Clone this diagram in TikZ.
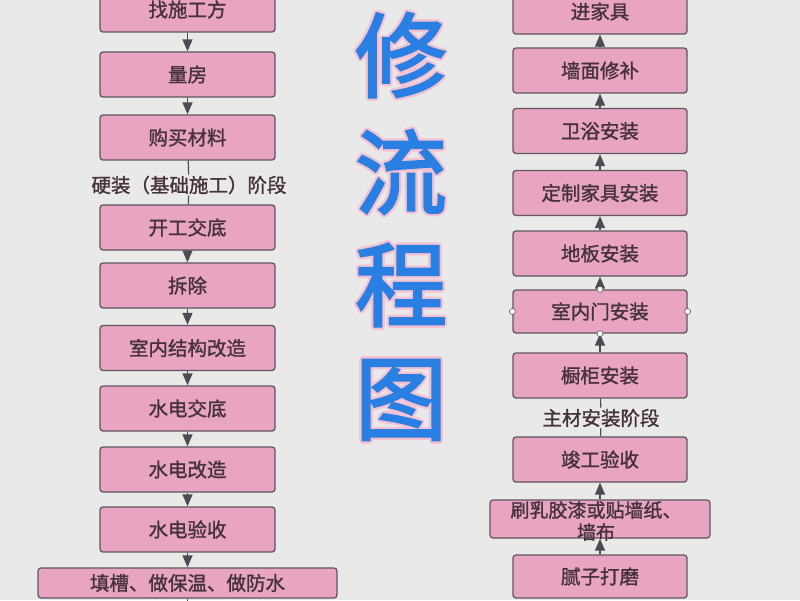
\documentclass[tikz,border=0pt]{standalone}
\usepackage{fontspec}
\setmainfont{Noto Sans CJK SC}
\newfontfamily\boxfont[FakeBold=1.3]{Noto Sans CJK SC}
\newfontfamily\glowfont{Noto Sans CJK SC}
\newfontfamily\titlefont[FakeBold=2.5]{Noto Sans CJK SC}
\usetikzlibrary{arrows.meta}
\definecolor{bg}{HTML}{E9E9EA}
\definecolor{boxfill}{HTML}{E8A4C0}
\definecolor{boxline}{HTML}{5E5660}
\definecolor{txt}{HTML}{45323C}
\definecolor{arr}{HTML}{4F4B52}
\definecolor{ttl}{HTML}{2A7FE2}
\definecolor{glow}{HTML}{F2C2D3}
\newcommand{\glowon}{\special{pdf:literal direct 1 Tr 7 w 1 j 0.949 0.761 0.827 RG}}
\newcommand{\glowoff}{\special{pdf:literal direct 0 Tr}}
\tikzset{
  stepbox/.style={rectangle, rounded corners=3pt, draw=boxline, line width=1.3pt, fill=boxfill, text=txt, inner sep=0pt, minimum height=45pt, font=\boxfont\fontsize{19.5}{21}\selectfont},
  lbox/.style={stepbox, minimum width=175pt},
  rbox/.style={stepbox, minimum width=174pt},
  flow/.style={draw=arr, line width=1.3pt, -{Triangle[width=10pt,length=12pt]}},
  plain/.style={draw=arr, line width=1.2pt},
  stage/.style={text=txt, inner sep=1pt, font=\boxfont\fontsize{19.5}{21}\selectfont},
  wraptext/.style={text=txt, inner sep=0pt, align=center, font=\boxfont\fontsize{19}{22}\selectfont},
  handle/.style={circle, draw=boxline, fill=white, line width=0.6pt, minimum size=6pt, inner sep=0pt},
  glowtxt/.style={text=glow, inner sep=0pt, font=\glowfont\fontsize{92}{92}\selectfont},
  titletxt/.style={text=ttl, inner sep=0pt, font=\titlefont\fontsize{92}{92}\selectfont},
}
\begin{document}
\begin{tikzpicture}[x=1pt,y=-1pt]
\fill[bg] (0,0) rectangle (800,600);
\useasboundingbox (0,0) rectangle (800,600);

% title: pink halo, then blue letters
\foreach \ch/\yy/\nm in {修/55/g1, 流/172/g2, 程/285/g3, 图/400/g4}{
  \node[glowtxt] (\nm) at (401,\yy) {\glowon\ch\glowoff};
}
\foreach \ch/\yy/\nm in {修/55/t1, 流/172/t2, 程/285/t3, 图/400/t4}{
  \node[titletxt] (\nm) at (401,\yy) {\ch};
}

% left column
\node[lbox] (l1) at (187.5,9.5) {找施工方};
\node[lbox] (l2) at (187.5,74.5) {量房};
\node[lbox] (l3) at (187.5,137.5) {购买材料};
\node[stage] (s1) at (189,185) {硬装（基础施工）阶段};
\node[lbox] (l4) at (187.5,227.5) {开工交底};
\node[lbox] (l5) at (187.5,285.5) {拆除};
\node[lbox] (l6) at (187.5,348) {室内结构改造};
\node[lbox] (l7) at (187.5,408.5) {水电交底};
\node[lbox] (l8) at (187.5,469.5) {水电改造};
\node[lbox] (l9) at (187.5,529.5) {水电验收};
\node[stepbox, minimum width=299pt, minimum height=30pt] (l10) at (187.5,583) {填槽、做保温、做防水};
\coordinate (lend) at (187.5,612);

\draw[flow] (l1) -- (l2);
\draw[flow] (l2) -- (l3);
\draw[plain] (l3) -- (s1);
\draw[plain] (s1) -- (l4);
\draw[flow] (l4) -- (l5);
\draw[flow] (l5) -- (l6);
\draw[flow] (l6) -- (l7);
\draw[flow] (l7) -- (l8);
\draw[flow] (l8) -- (l9);
\draw[flow] (l9) -- (l10);
\draw[plain] (l10) -- (lend);

% right column
\node[rbox] (r1) at (600,11.5) {进家具};
\node[rbox] (r2) at (600,70.5) {墙面修补};
\node[rbox] (r3) at (600,131) {卫浴安装};
\node[rbox] (r4) at (600,193) {定制家具安装};
\node[rbox] (r5) at (600,253.5) {地板安装};
\node[rbox, minimum height=43pt] (r6) at (600,311.5) {室内门安装};
\node[rbox] (r7) at (600,375.5) {橱柜安装};
\node[stage] (s2) at (601,418) {主材安装阶段};
\node[rbox] (r8) at (600,459.5) {竣工验收};
\node[stepbox, minimum width=220pt, minimum height=38pt] (r9) at (600,519) {};
\node[wraptext] (r9t) at (596,521) {刷乳胶漆或贴墙纸、\\墙布};
\node[rbox, minimum height=43pt] (r10) at (600,576.5) {腻子打磨};

\draw[flow] (r2) -- (r1);
\draw[flow] (r3) -- (r2);
\draw[flow] (r4) -- (r3);
\draw[flow] (r5) -- (r4);
\draw[flow] (r6) -- (r5);
\draw[flow] (r7) -- (r6);
\draw[plain] (r7) -- (s2);
\draw[plain] (s2) -- (r8);
\draw[flow] (r9) -- (r8);
\draw[flow] (r10) -- (r9);

\node[handle] (h1) at (r6.north) {};
\node[handle] (h2) at (r6.south) {};
\node[handle] (h3) at (r6.west) {};
\node[handle] (h4) at (r6.east) {};
\end{tikzpicture}
\end{document}
